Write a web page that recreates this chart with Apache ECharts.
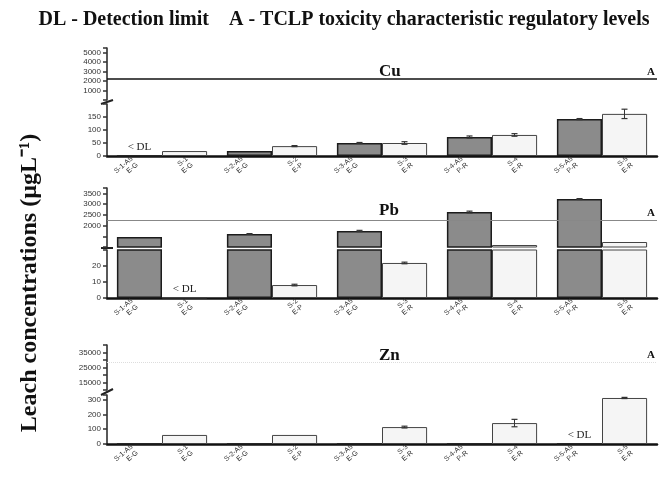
<!DOCTYPE html>
<html>
<head>
<meta charset="utf-8">
<script src="https://cdn.jsdelivr.net/npm/echarts@6/dist/echarts.min.js"></script>
<style>
  html, body { margin: 0; background: #fff; }
  #chart { width: 667px; height: 479px; }
</style>
</head>
<body>
<div id="chart"></div>
<script>
// groups of two bars (dark = first sample, light = second sample)
const groups = ['1', '2', '3', '4', '5'];
const barLabels = [
  'S-1-A5\nE-G', 'S-1\nE-G', 'S-2-A5\nE-G', 'S-2\nE-P', 'S-3-A5\nE-G',
  'S-3\nE-R', 'S-4-A5\nP-R', 'S-4\nE-R', 'S-5-A5\nP-R', 'S-5\nE-R'
];

// Cu (ug/L)
const cuDark = [0, 19, 50, 73, 142];
const cuLight = [19, 38, 50, 81, 162];
const cuDarkErr = [0, 0, 2, 4, 2];
const cuLightErr = [0, 2, 5, 5, 18];
const cuDarkDL = [1, 0, 0, 0, 0];
const cuLightDL = [0, 0, 0, 0, 0];
const cuLimit = 2200;
const cuUpperTicks = [1000, 2000, 3000, 4000, 5000];
const cuLowerTicks = [0, 50, 100, 150];

// Pb (ug/L)
const pbDark = [1466, 1606, 1746, 2631, 3237];
const pbLight = [0.3, 8.1, 21.9, 1093, 1233];
const pbDarkErr = [0, 20, 30, 40, 20];
const pbLightErr = [0, 0.5, 0.5, 0, 0];
const pbDarkDL = [0, 0, 0, 0, 0];
const pbLightDL = [1, 0, 0, 0, 0];
const pbLimit = 2250;
const pbUpperTicks = [2000, 2500, 3000, 3500];
const pbLowerTicks = [0, 10, 20];

// Zn (ug/L)
const znDark = [0, 0, 0, 0, 0];
const znLight = [61, 61, 114, 141, 310];
const znDarkErr = [0, 0, 0, 0, 0];
const znLightErr = [0, 0, 6, 25, 4];
const znDarkDL = [0, 0, 0, 0, 1];
const znLightDL = [0, 0, 0, 0, 0];
const znLimit = 28500;
const znUpperTicks = [15000, 25000, 35000];
const znLowerTicks = [0, 100, 200, 300];

const panels = [
  {
    title: 'Cu', titleTop: 58, dark: cuDark, light: cuLight, darkErr: cuDarkErr, lightErr: cuLightErr,
    darkDL: cuDarkDL, lightDL: cuLightDL, limit: cuLimit,
    limitStyle: { color: '#111', width: 1.5, type: 'solid' },
    upper: { top: 48, height: 52, min: 0, max: 5500, interval: 1000, ticks: cuUpperTicks },
    lower: { top: 104, height: 52, min: 0, max: 200, interval: 50, ticks: cuLowerTicks }
  },
  {
    title: 'Pb', titleTop: 197, dark: pbDark, light: pbLight, darkErr: pbDarkErr, lightErr: pbLightErr,
    darkDL: pbDarkDL, lightDL: pbLightDL, limit: pbLimit,
    limitStyle: { color: '#888', width: 1, type: 'solid' },
    upper: { top: 188, height: 59, min: 1000, max: 3750, interval: 500, ticks: pbUpperTicks },
    lower: { top: 250, height: 48, min: 0, max: 30, interval: 10, ticks: pbLowerTicks }
  },
  {
    title: 'Zn', titleTop: 342, dark: znDark, light: znLight, darkErr: znDarkErr, lightErr: znLightErr,
    darkDL: znDarkDL, lightDL: znLightDL, limit: znLimit,
    limitStyle: { color: '#ddd', width: 1, type: 'dotted' },
    upper: { top: 345, height: 45, min: 10000, max: 40000, interval: 5000, ticks: znUpperTicks },
    lower: { top: 395, height: 49, min: 0, max: 330, interval: 100, ticks: znLowerTicks }
  }
];

const darkStyle = { color: '#8b8b8b', borderColor: '#1c1c1c', borderWidth: 1.5 };
const lightStyle = { color: '#f5f5f5', borderColor: '#444', borderWidth: 1 };

const grid = [], xAxis = [], yAxis = [], series = [], title = [];

// upper grid only gets bars that go past the break of the lower grid
function barData(vals, dl, lowerMax, isLower) {
  if (!isLower) return vals.map(v => v > lowerMax ? v : '-');
  return vals.map((v, i) => dl[i] ? {
    value: v,
    label: { show: true, position: 'top', distance: 3, formatter: '< DL',
      fontFamily: 'Liberation Serif', fontSize: 11, color: '#222' }
  } : v);
}

function errSeries(idx, vals, errs, side, lo, hi) {
  return {
    type: 'custom', xAxisIndex: idx, yAxisIndex: idx, z: 5, clip: true, silent: true,
    data: vals.map((v, i) => [i, v, errs[i]]),
    renderItem(params, api) {
      const i = api.value(0), v = api.value(1), e = api.value(2);
      if (!e || v <= lo || v > hi) return null;
      const w = api.size([1, 0])[0];
      const x = api.coord([i, v])[0] + side * w * 0.2045;
      const top = api.coord([i, v + e])[1];
      const bot = api.coord([i, v - e])[1];
      return {
        type: 'group', children: [
          { type: 'line', shape: { x1: x, y1: top, x2: x, y2: bot }, style: { stroke: '#333', lineWidth: 1 } },
          { type: 'line', shape: { x1: x - 3, y1: top, x2: x + 3, y2: top }, style: { stroke: '#333', lineWidth: 1.2 } },
          { type: 'line', shape: { x1: x - 3, y1: bot, x2: x + 3, y2: bot }, style: { stroke: '#333', lineWidth: 1.2 } }
        ]
      };
    }
  };
}

function yAx(idx, r) {
  return {
    type: 'value', gridIndex: idx, min: r.min, max: r.max, interval: r.interval,
    axisLine: { show: true, lineStyle: { color: '#222', width: 1.5 } },
    axisTick: { show: true, inside: false, length: 4, lineStyle: { color: '#333', width: 1.5 } },
    splitLine: { show: false },
    axisLabel: {
      fontSize: 8, color: '#333', fontFamily: 'Liberation Sans', margin: 6,
      formatter: v => r.ticks.includes(v) ? String(v) : ''
    }
  };
}

panels.forEach((p, k) => {
  [p.upper, p.lower].forEach((r, j) => {
    const idx = 2 * k + j;
    const isLower = j === 1;
    grid.push({ left: 107, right: 10, top: r.top, height: r.height });
    xAxis.push({
      type: 'category', gridIndex: idx, data: groups,
      show: isLower,
      axisLine: { show: true, lineStyle: { color: '#111', width: 2.5 } },
      axisTick: { show: false }, axisLabel: { show: false }
    });
    yAxis.push(yAx(idx, r));
    const dark = {
      type: 'bar', xAxisIndex: idx, yAxisIndex: idx, barGap: '0%', barCategoryGap: '18%',
      clip: true, itemStyle: darkStyle, silent: true,
      data: barData(p.dark, p.darkDL, p.lower.max, isLower)
    };
    const light = {
      type: 'bar', xAxisIndex: idx, yAxisIndex: idx, barGap: '0%', barCategoryGap: '18%',
      clip: true, itemStyle: lightStyle, silent: true,
      data: barData(p.light, p.lightDL, p.lower.max, isLower)
    };
    if (!isLower) {
      light.markLine = {
        silent: true, symbol: 'none',
        lineStyle: p.limitStyle,
        label: { show: true, position: 'insideEndTop', formatter: 'A', distance: 2,
          fontFamily: 'Liberation Serif', fontWeight: 'bold', fontSize: 11, color: '#111' },
        data: [{ yAxis: p.limit }]
      };
    }
    const lo = isLower ? -Infinity : p.lower.max;
    const hi = isLower ? p.lower.max : Infinity;
    series.push(dark, light,
      errSeries(idx, p.dark, p.darkErr, -1, lo, hi),
      errSeries(idx, p.light, p.lightErr, 1, lo, hi));
  });
  title.push({
    text: p.title, left: 374, top: p.titleTop,
    textStyle: { fontFamily: 'Liberation Serif', fontWeight: 'bold', fontSize: 17, color: '#111' }
  });
});

// bar name labels under each lower grid
panels.forEach((p, k) => {
  xAxis.push({
    type: 'category', gridIndex: 2 * k + 1, data: barLabels, position: 'bottom',
    axisLine: { show: false }, axisTick: { show: false },
    axisLabel: { interval: 0, rotate: 40, fontSize: 7, lineHeight: 8, margin: 5,
      color: '#333', fontFamily: 'Liberation Sans' }
  });
});

const breakMark = (y, slope) => ({
  type: 'line', shape: { x1: 101, y1: y + slope, x2: 113, y2: y - slope },
  style: { stroke: '#222', lineWidth: 2 }
});

const option = {
  animation: false,
  title,
  grid, xAxis, yAxis, series,
  graphic: [
    {
      type: 'text', x: 344, y: 20,
      style: {
        text: 'DL - Detection limit    A - TCLP toxicity characteristic regulatory levels',
        font: 'bold 20px "Liberation Serif"', fill: '#111',
        textAlign: 'center', textVerticalAlign: 'middle'
      }
    },
    {
      type: 'text', x: 30, y: 283, rotation: Math.PI / 2,
      style: {
        text: 'Leach concentrations (\u00b5gL\u207b\u00b9)',
        font: 'bold 24px "Liberation Serif"', fill: '#111',
        textAlign: 'center', textVerticalAlign: 'middle'
      }
    },
    breakMark(102, 2),
    breakMark(248, 0),
    breakMark(392, 3)
  ]
};

const chart = echarts.init(document.getElementById('chart'));
chart.setOption(option);
</script>
</body>
</html>
